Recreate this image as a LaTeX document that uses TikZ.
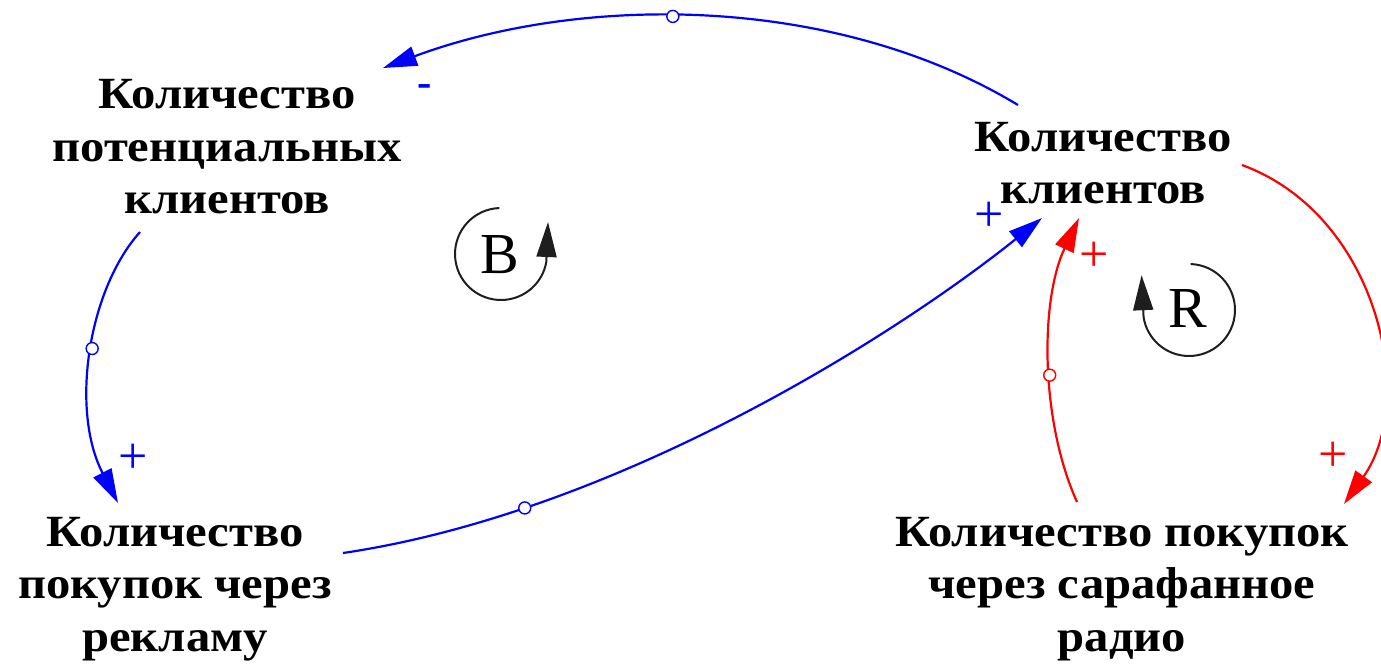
\documentclass[tikz,border=0pt]{standalone}
\usepackage{fontspec}
\setmainfont{Liberation Serif}
\newfontfamily\labelfont{Liberation Serif}[FakeStretch=1.09]
\usetikzlibrary{arrows.meta}
\definecolor{lnkblue}{RGB}{0,0,255}
\definecolor{lnkred}{RGB}{255,0,0}
\definecolor{loopgray}{RGB}{30,30,30}
\begin{document}
\begin{tikzpicture}[x=0.5pt,y=0.5pt,
  var/.style={font=\labelfont\bfseries\fontsize{22.3}{26.2}\selectfont, align=center, inner sep=0pt, text=black},
  bluelink/.style={draw=lnkblue, line width=1.1pt, -{Triangle[length=17pt,width=10pt]}},
  redlink/.style={draw=lnkred, line width=1.1pt, -{Triangle[length=17pt,width=10pt]}},
  linkdot/.style={circle, draw, fill=white, line width=0.7pt, inner sep=0pt, minimum size=6pt},
  polsign/.style={font=\fontsize{26}{26}\selectfont, inner sep=0pt},
  negsign/.style={font=\bfseries\fontsize{21.5}{26}\selectfont, inner sep=0pt},
  loopletter/.style={font=\fontsize{29}{30}\selectfont, inner sep=0pt},
  loopline/.style={draw=loopgray, line width=1pt, -{Triangle[length=17.5pt,width=10pt]}}
]
\useasboundingbox (0,0) rectangle (1381,-665);

% variables
\node[var] (pot) at (227,-147) {Количество\\потенциальных\\клиентов};
\node[var] (cli) at (1103,-163) {Количество\\клиентов};
\node[var] (ads) at (175,-589) {Количество\\покупок через\\рекламу};
\node[var] (wom) at (1122,-589) {Количество покупок\\через сарафанное\\радио};

% link end points
\coordinate (l1s) at (1018,-105);
\coordinate (l1e) at (383,-68);
\coordinate (l2s) at (140,-232);
\coordinate (l2e) at (118,-503);
\coordinate (l3s) at (343,-553);
\coordinate (l3e) at (1042,-218);
\coordinate (l4s) at (1077,-502);
\coordinate (l4e) at (1079,-218);
\coordinate (l5s) at (1242,-165);
\coordinate (l5e) at (1344,-504);

% links
\draw[bluelink] (l1s) .. controls (834,6) and (582,6) .. node[linkdot, draw=lnkblue, pos=0.55] (d1) {} (l1e);
\draw[bluelink] (l2s) .. controls (88,-290) and (70,-410) .. node[linkdot, draw=lnkblue, pos=0.48] (d2) {} (l2e);
\draw[bluelink] (l3s) .. controls (620,-512) and (900,-332) .. node[linkdot, draw=lnkblue, pos=0.22] (d3) {} (l3e);
\draw[redlink] (l4s) .. controls (1040,-420) and (1040,-300) .. node[linkdot, draw=lnkred, pos=0.45] (d4) {} (l4e);
\draw[redlink] (l5s) .. controls (1378,-215) and (1418,-400) .. (l5e);

% polarity signs
\node[negsign, text=lnkblue] (s1) at (425,-91) {-};
\node[polsign, text=lnkblue] (s2) at (133,-459) {+};
\node[polsign, text=lnkblue] (s3) at (989,-217) {+};
\node[polsign, text=lnkred] (s4) at (1094,-257) {+};
\node[polsign, text=lnkred] (s5) at (1333,-457) {+};

% loop symbols
\node[loopletter] (B) at (500,-255) {B};
\node[loopletter] (R) at (1188,-309) {R};
\coordinate (bc) at (501,-254);
\coordinate (rc) at (1189,-310);
\draw[loopline] ([shift={(92:46)}]bc) arc[start angle=92, end angle=350, radius=46] -- ++(1.7,40);
\draw[loopline] ([shift={(88:46)}]rc) arc[start angle=88, end angle=-171, radius=46] -- ++(-2,42);
\end{tikzpicture}
\end{document}
